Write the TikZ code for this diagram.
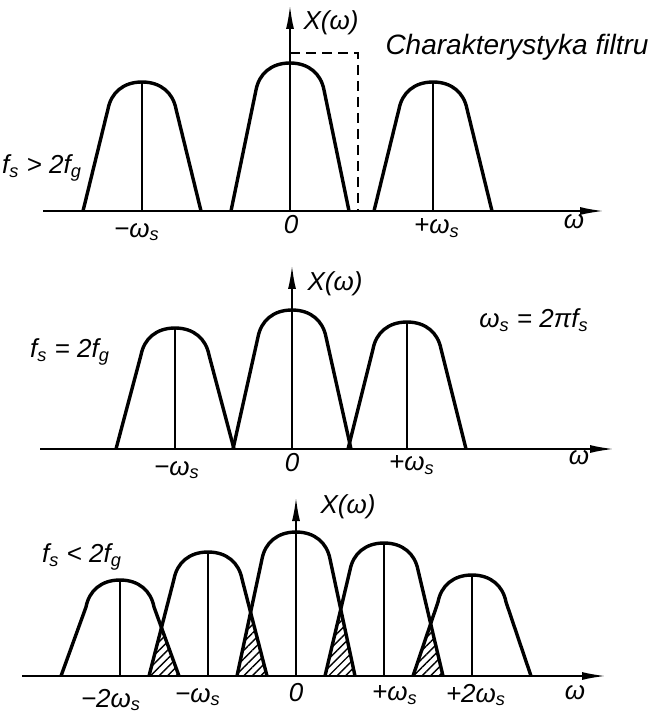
\documentclass[tikz,border=0pt]{standalone}
\usepackage{fontspec}
\setmainfont{Liberation Sans}
\usepackage{tikz}
\usetikzlibrary{arrows.meta, patterns.meta}

\tikzset{
	axis/.style={line width=1pt, -{Latex[length=12pt,width=4pt]}},
	bump/.style={line width=1.7pt, line join=round},
	mid/.style={line width=0.7pt},
	filter/.style={line width=1.1pt, dash pattern=on 5pt off 3pt},
	hatch/.style={pattern={Lines[angle=45,distance=3pt,line width=0.7pt]}},
	lbl/.style={font=\fontsize{13}{15}\selectfont\itshape, inner sep=0pt},
}
% one copy of the spectrum: centre, base, top of the dome
\newcommand{\specbump}[3]{%
	\draw[bump] (#1-59,#2) -- (#1-34,#3+27)
		.. controls (#1-31,#3+11) and (#1-19,#3) .. (#1,#3)
		.. controls (#1+19,#3) and (#1+31,#3+11) .. (#1+34,#3+27)
		-- (#1+59,#2);
	\draw[mid] (#1,#2) -- (#1,#3);
}
% overlap of two neighbouring copies: left centre, left top, right centre, right top, base
\newcommand{\overlap}[5]{%
	\coordinate (la) at (#1+59,#5);
	\coordinate (lb) at (#1+34,#2+27);
	\coordinate (ra) at (#3-59,#5);
	\coordinate (rb) at (#3-34,#4+27);
	\fill[hatch] (la) -- (intersection of la--lb and ra--rb) -- (ra) -- cycle;
}

\begin{document}
\begin{tikzpicture}[x=0.5pt,y=-0.5pt]
	\useasboundingbox (0,0) rectangle (654,716);

	% f_s > 2f_g
	\coordinate (h1s) at (43,211);
	\coordinate (h1e) at (604,211);
	\coordinate (v1s) at (290,211);
	\coordinate (v1e) at (290,5);
	\specbump{142}{211}{82}
	\specbump{290}{211}{63}
	\specbump{433}{211}{82}
	\draw[axis] (h1s) -- (h1e);
	\draw[axis] (v1s) -- (v1e);
	\coordinate (fa) at (290,53);
	\coordinate (fb) at (358,53);
	\coordinate (fc) at (358,211);
	\draw[filter] (fa) -- (fb) -- (fc);
	\node[lbl] (xw1) at (331,23) {X(ω)};
	\node[lbl, font=\fontsize{14}{16}\selectfont\itshape] (filt) at (517,47) {Charakterystyka filtru};
	\node[lbl] (cond1) at (42,168) {f\textsubscript{s} > 2f\textsubscript{g}};
	\node[lbl] (m1) at (137,232) {−ω\textsubscript{s}};
	\node[lbl] (z1) at (291,225) {0};
	\node[lbl] (p1) at (437,228) {+ω\textsubscript{s}};
	\node[lbl] (w1) at (574,222) {ω};

	% f_s = 2f_g
	\coordinate (h2s) at (40,449);
	\coordinate (h2e) at (614,449);
	\coordinate (v2s) at (292,449);
	\coordinate (v2e) at (292,265);
	\specbump{175}{449}{328}
	\specbump{292}{449}{310}
	\specbump{407}{449}{322}
	\draw[axis] (h2s) -- (h2e);
	\draw[axis] (v2s) -- (v2e);
	\node[lbl] (xw2) at (335,284) {X(ω)};
	\node[lbl] (ws) at (534,320) {ω\textsubscript{s} = 2πf\textsubscript{s}};
	\node[lbl] (cond2) at (70,352) {f\textsubscript{s} = 2f\textsubscript{g}};
	\node[lbl] (m2) at (177,470) {−ω\textsubscript{s}};
	\node[lbl] (z2) at (292,463) {0};
	\node[lbl] (p2) at (412,465) {+ω\textsubscript{s}};
	\node[lbl] (w2) at (579,458) {ω};

	% f_s < 2f_g
	\coordinate (h3s) at (22,676);
	\coordinate (h3e) at (606,676);
	\coordinate (v3s) at (296,676);
	\coordinate (v3e) at (296,497);
	\overlap{120}{580}{208}{552}{676}
	\overlap{208}{552}{296}{532}{676}
	\overlap{296}{532}{384}{543}{676}
	\overlap{384}{543}{472}{575}{676}
	\specbump{120}{676}{580}
	\specbump{208}{676}{552}
	\specbump{296}{676}{532}
	\specbump{384}{676}{543}
	\specbump{472}{676}{575}
	\draw[axis] (h3s) -- (h3e);
	\draw[axis] (v3s) -- (v3e);
	\node[lbl] (xw3) at (348,507) {X(ω)};
	\node[lbl] (cond3) at (82,557) {f\textsubscript{s} < 2f\textsubscript{g}};
	\node[lbl] (mm3) at (111,700) {−2ω\textsubscript{s}};
	\node[lbl] (m3) at (198,697) {−ω\textsubscript{s}};
	\node[lbl] (z3) at (296,693) {0};
	\node[lbl] (p3) at (395,695) {+ω\textsubscript{s}};
	\node[lbl] (pp3) at (476,695) {+2ω\textsubscript{s}};
	\node[lbl] (w3) at (575,693) {ω};
\end{tikzpicture}
\end{document}
